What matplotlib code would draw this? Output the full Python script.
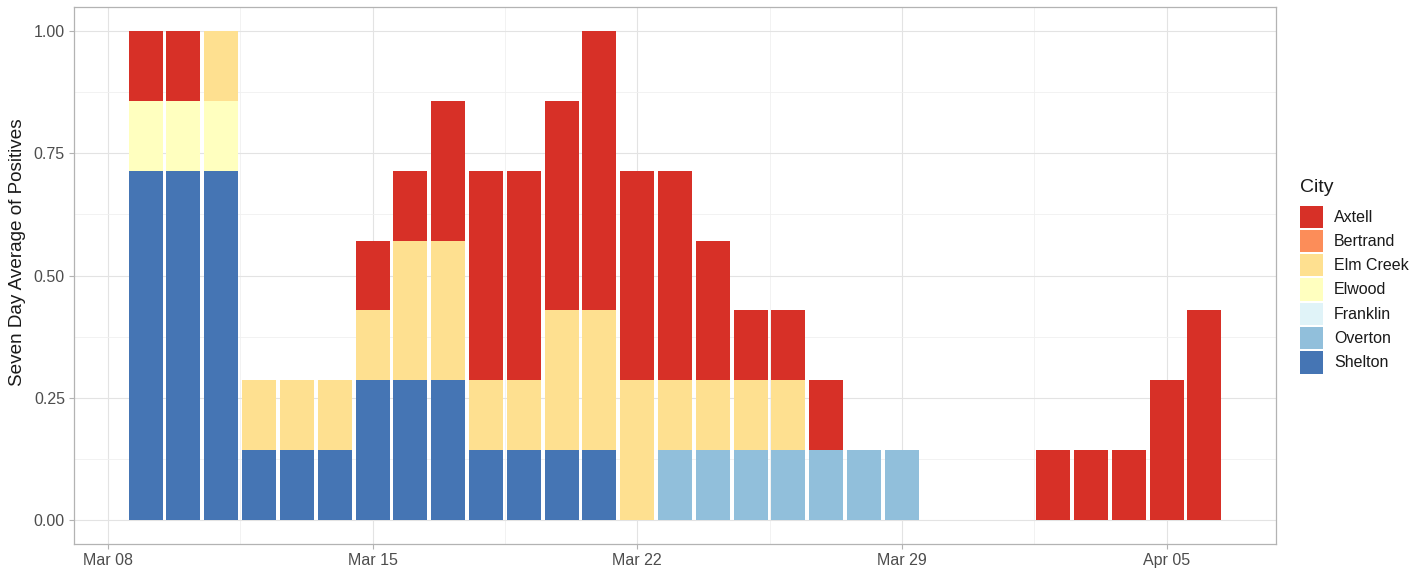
import matplotlib
matplotlib.use("Agg")
import matplotlib.pyplot as plt
import matplotlib.dates as mdates
from matplotlib.patches import Rectangle
import numpy as np
import datetime as dt

# ---- data ----
start = dt.date(2020, 3, 9)
dates = [start + dt.timedelta(days=i) for i in range(29)]  # Mar 09 .. Apr 06

cities = ["Axtell", "Bertrand", "Elm Creek", "Elwood", "Franklin", "Overton", "Shelton"]
colors = ["#D73027", "#FC8D59", "#FEE090", "#FFFFBF", "#E0F3F8", "#91BFDB", "#4575B4"]

shelton = [0.7143, 0.7143, 0.7143, 0.1429, 0.1429, 0.1429, 0.2857, 0.2857, 0.2857, 0.1429,
           0.1429, 0.1429, 0.1429, 0, 0, 0, 0, 0, 0, 0, 0, 0, 0, 0, 0, 0, 0, 0, 0]
overton = [0, 0, 0, 0, 0, 0, 0, 0, 0, 0, 0, 0, 0, 0, 0.1429, 0.1429, 0.1429, 0.1429, 0.1429,
           0.1429, 0.1429, 0, 0, 0, 0, 0, 0, 0, 0]
franklin = [0] * 29
elwood = [0.1429, 0.1429, 0.1429, 0, 0, 0, 0, 0, 0, 0, 0, 0, 0, 0, 0, 0, 0, 0, 0, 0, 0, 0,
          0, 0, 0, 0, 0, 0, 0]
elm_creek = [0, 0, 0.1429, 0.1429, 0.1429, 0.1429, 0.1429, 0.2857, 0.2857, 0.1429, 0.1429,
             0.2857, 0.2857, 0.2857, 0.1429, 0.1429, 0.1429, 0.1429, 0, 0, 0, 0, 0, 0, 0, 0,
             0, 0, 0]
bertrand = [0] * 29
axtell = [0.1429, 0.1429, 0, 0, 0, 0, 0.1429, 0.1429, 0.2857, 0.4286, 0.4286, 0.4286, 0.5714,
          0.4286, 0.4286, 0.2857, 0.1429, 0.1429, 0.1429, 0, 0, 0, 0, 0, 0.1429, 0.1429,
          0.1429, 0.2857, 0.4286]

x_ticks = [dt.date(2020, 3, 8), dt.date(2020, 3, 15), dt.date(2020, 3, 22),
           dt.date(2020, 3, 29), dt.date(2020, 4, 5)]
x_tick_labels = ["Mar 08", "Mar 15", "Mar 22", "Mar 29", "Apr 05"]
y_ticks = [0.0, 0.25, 0.5, 0.75, 1.0]
y_tick_labels = ["0.00", "0.25", "0.50", "0.75", "1.00"]

series = {"Axtell": axtell, "Bertrand": bertrand, "Elm Creek": elm_creek, "Elwood": elwood,
          "Franklin": franklin, "Overton": overton, "Shelton": shelton}

# ---- figure ----
plt.rcParams['font.family'] = ['Liberation Sans', 'DejaVu Sans']
W, H = 1421, 570
fig = plt.figure(figsize=(W / 100, H / 100), dpi=100)
ax = fig.add_axes([74 / W, 1 - 544 / H, (1276 - 74) / W, (544 - 7) / H])

xnum = mdates.date2num(dates)
bottom = np.zeros(len(dates))
for city, col in zip(cities[::-1], colors[::-1]):
    vals = np.array(series[city], dtype=float)
    ax.bar(xnum, vals, width=0.9, bottom=bottom, color=col, linewidth=0, zorder=3)
    bottom += vals

xt = mdates.date2num(x_ticks)
ax.set_xticks(xt)
ax.set_xticklabels(x_tick_labels)
ax.set_xticks(list(xt[:-1] + 3.5), minor=True)
ax.set_yticks(y_ticks)
ax.set_yticklabels(y_tick_labels)
ax.set_yticks([0.125, 0.375, 0.625, 0.875], minor=True)

# limits (ggplot expansion 5%) -- set after ticks so they are not expanded
lo, hi = xnum[0] - 0.45, xnum[-1] + 0.45
pad = (hi - lo) * 0.05
ax.set_xlim(lo - pad, hi + pad)
ax.set_ylim(-0.05, 1.05)

ax.grid(True, which='major', color='#E3E3E3', linewidth=0.8, zorder=0)
ax.grid(True, which='minor', color='#F0F0F0', linewidth=0.6, zorder=0)
ax.set_axisbelow(True)
for s in ax.spines.values():
    s.set_color('#B3B3B3')
    s.set_linewidth(0.9)
ax.tick_params(which='major', length=3.5, color='#B3B3B3', width=0.8,
               labelsize=11.5, labelcolor='#4D4D4D', pad=3)
ax.tick_params(which='minor', length=0)

# ---- pixel helpers ----
def fx(px):
    return px / W

def fy(py):
    return 1 - py / H

fig.text(fx(18), fy(252), "Seven Day Average of Positives", fontsize=13.6, color='#1A1A1A',
         rotation=90, va='center', ha='center')

# ---- legend (manual, pixel coords) ----
fig.text(fx(1300), fy(187), "City", fontsize=14, color='#1A1A1A', va='center', ha='left')
key_top0 = 205.5
step = 24.3
for i, (city, col) in enumerate(zip(cities, colors)):
    top = key_top0 + i * step
    fig.add_artist(Rectangle((fx(1300), fy(top + 22.3)), 23 / W, 22.3 / H,
                             transform=fig.transFigure, facecolor=col, edgecolor='none'))
    fig.text(fx(1334), fy(top + 11.5), city, fontsize=11.5, color='#1A1A1A',
             va='center', ha='left')

fig.savefig("out.png", dpi=100)
